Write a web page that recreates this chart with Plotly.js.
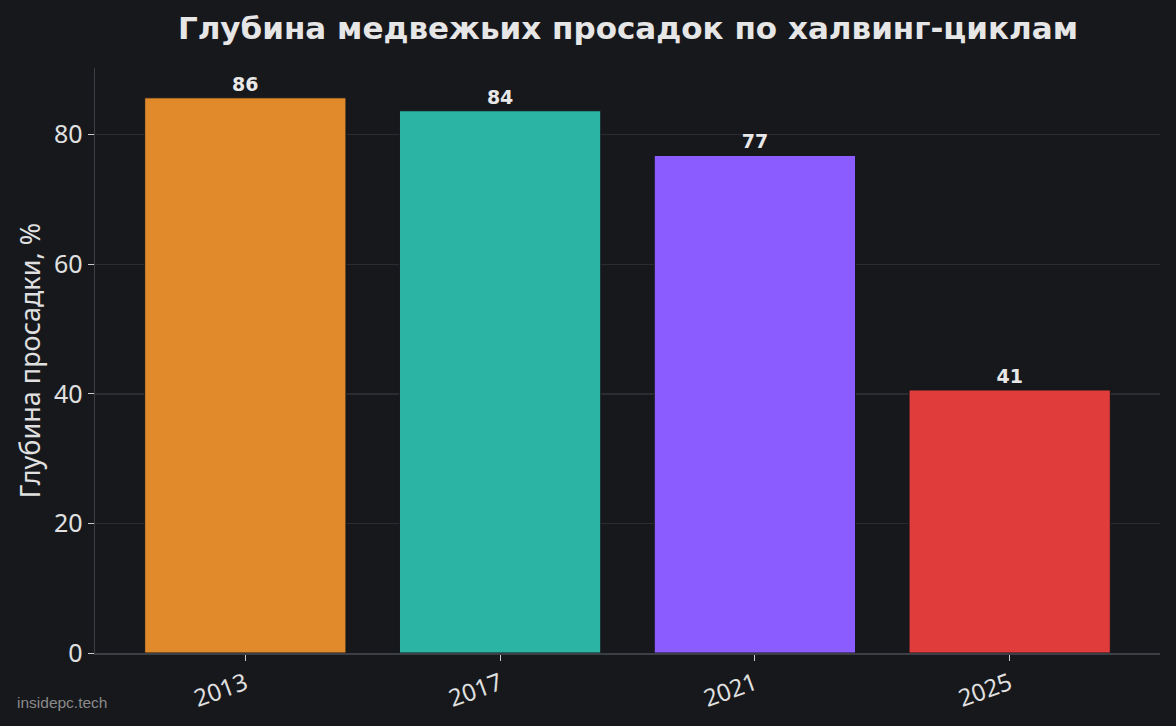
<!DOCTYPE html>
<html>
<head>
<meta charset="utf-8">
<script src="https://cdn.plot.ly/plotly-3.0.1.min.js"></script>
<style>
  html, body { margin: 0; padding: 0; background: #17181c; }
  #plot { width: 1176px; height: 726px; }
</style>
</head>
<body>
<div id="plot"></div>
<script>
var cycles = ['2013', '2017', '2021', '2025'];
var drawdowns = [85.7, 83.7, 76.8, 40.6];
var barLabels = ['86', '84', '77', '41'];
var barColors = ['#e08a2b', '#2bb3a3', '#8b5cff', '#e03c3c'];

var trace = {
  x: cycles,
  y: drawdowns,
  type: 'bar',
  width: 0.79,
  marker: {
    color: barColors,
    line: { color: '#17181c', width: 1 }
  },
  text: barLabels,
  textposition: 'outside',
  cliponaxis: false,
  textfont: { family: 'DejaVu Sans', size: 19, color: '#e8e8e8', weight: 'bold' },
  hoverinfo: 'x+y'
};

var layout = {
  width: 1176,
  height: 726,
  paper_bgcolor: '#17181c',
  plot_bgcolor: '#17181c',
  margin: { l: 95, r: 16, t: 68, b: 73 },
  font: { family: 'Noto Sans', color: '#e6e6e6' },
  title: {
    text: '<b>Глубина медвежьих просадок по халвинг-циклам</b>',
    font: { family: 'DejaVu Sans', size: 31, color: '#e6e6e6' },
    x: 0.534,
    xanchor: 'center',
    y: 0.961,
    yanchor: 'middle'
  },
  xaxis: {
    type: 'category',
    range: [-0.59, 3.59],
    tickangle: -20,
    ticks: 'outside',
    ticklen: 6,
    tickcolor: '#cccccc',
    tickfont: { family: 'Noto Sans', size: 24, color: '#e0e0e0' },
    showline: true,
    linecolor: '#3b3e45',
    linewidth: 1.5,
    showgrid: false,
    zeroline: false
  },
  yaxis: {
    title: {
      text: 'Глубина просадки, %',
      font: { family: 'Noto Sans', size: 27, color: '#e0e0e0' },
      standoff: 5
    },
    range: [0, 90.3],
    tickvals: [0, 20, 40, 60, 80],
    ticks: 'outside',
    ticklen: 6,
    tickcolor: '#cccccc',
    tickfont: { family: 'Noto Sans', size: 25, color: '#e0e0e0' },
    showline: true,
    linecolor: '#3b3e45',
    linewidth: 1.5,
    showgrid: true,
    gridcolor: '#2a2c31',
    gridwidth: 1.5,
    zeroline: false
  },
  showlegend: false,
  bargap: 0.21,
  annotations: [{
    text: 'insidepc.tech',
    xref: 'paper', yref: 'paper',
    x: -0.075, y: -0.084,
    xanchor: 'left', yanchor: 'middle',
    showarrow: false,
    font: { family: 'Liberation Sans', size: 15.5, color: '#8a8a8a' }
  }]
};

Plotly.newPlot('plot', [trace], layout, { displayModeBar: false, staticPlot: true });
</script>
</body>
</html>
